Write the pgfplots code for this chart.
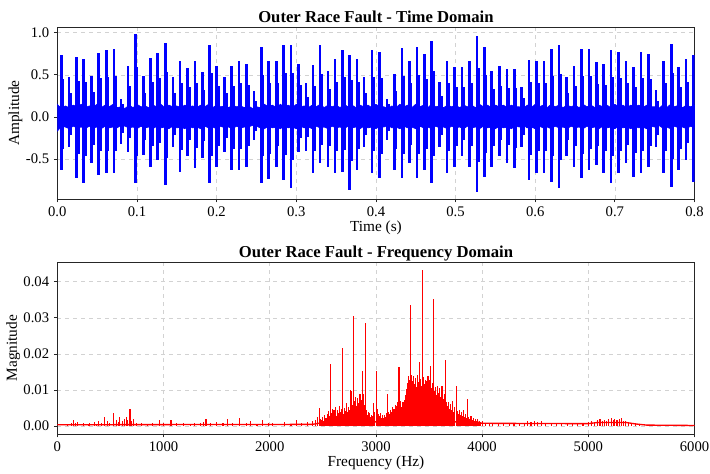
\documentclass[border=0pt]{standalone}
\usepackage{fontspec}
\setmainfont{Liberation Serif}
\usepackage{pgfplots}
\usepackage{pgfplotstable}
\pgfplotsset{compat=1.18}

% impulses: time, positive peak, negative peak, echo peaks
\pgfplotstableread{
t a b a2 b2
0.0050 0.73 -0.63 0.45 -0.38
0.0146 0.47 -0.36 0.28 -0.22
0.0240 0.71 -0.73 0.43 -0.44
0.0330 0.69 -0.78 0.41 -0.47
0.0430 0.49 -0.55 0.30 -0.33
0.0520 0.76 -0.69 0.46 -0.41
0.0615 0.80 -0.67 0.48 -0.40
0.0710 0.81 -0.67 0.49 -0.40
0.0800 0.21 -0.32 0.15 -0.19
0.0890 0.61 -0.42 0.37 -0.25
0.0980 0.98 -0.79 0.59 -0.47
0.1080 0.49 -0.45 0.29 -0.27
0.1170 0.70 -0.59 0.42 -0.35
0.1260 0.76 -0.51 0.46 -0.31
0.1355 0.88 -0.81 0.53 -0.49
0.1450 0.47 -0.36 0.28 -0.22
0.1540 0.66 -0.65 0.40 -0.39
0.1635 0.58 -0.47 0.35 -0.28
0.1730 0.66 -0.61 0.40 -0.37
0.1820 0.53 -0.49 0.32 -0.29
0.1910 0.86 -0.78 0.52 -0.47
0.2000 0.61 -0.59 0.37 -0.35
0.2100 0.47 -0.42 0.28 -0.25
0.2190 0.61 -0.63 0.37 -0.38
0.2280 0.67 -0.63 0.40 -0.38
0.2375 0.63 -0.59 0.38 -0.35
0.2470 0.31 -0.28 0.19 -0.17
0.2560 0.83 -0.78 0.50 -0.47
0.2650 0.66 -0.74 0.40 -0.44
0.2750 0.67 -0.59 0.40 -0.35
0.2840 0.86 -0.75 0.52 -0.45
0.2935 0.86 -0.85 0.52 -0.51
0.3030 0.63 -0.42 0.38 -0.25
0.3120 0.40 -0.40 0.24 -0.24
0.3210 0.62 -0.67 0.37 -0.40
0.3300 0.85 -0.55 0.51 -0.33
0.3400 0.55 -0.59 0.33 -0.35
0.3485 0.69 -0.67 0.41 -0.40
0.3580 0.80 -0.65 0.48 -0.39
0.3670 0.73 -0.87 0.44 -0.52
0.3764 0.69 -0.63 0.41 -0.38
0.3850 0.47 -0.36 0.28 -0.22
0.3950 0.79 -0.67 0.47 -0.40
0.4047 0.77 -0.73 0.46 -0.44
0.4140 0.21 -0.28 0.15 -0.17
0.4230 0.51 -0.63 0.31 -0.38
0.4326 0.82 -0.73 0.49 -0.44
0.4420 0.67 -0.55 0.40 -0.33
0.4517 0.83 -0.73 0.50 -0.44
0.4610 0.75 -0.63 0.45 -0.38
0.4700 0.90 -0.79 0.54 -0.47
0.4800 0.41 -0.36 0.25 -0.22
0.4890 0.66 -0.67 0.40 -0.40
0.4987 0.59 -0.59 0.35 -0.35
0.5080 0.59 -0.47 0.35 -0.28
0.5174 0.66 -0.59 0.40 -0.35
0.5267 0.96 -0.89 0.58 -0.53
0.5360 0.83 -0.71 0.50 -0.43
0.5453 0.55 -0.59 0.33 -0.35
0.5550 0.61 -0.47 0.37 -0.28
0.5644 0.57 -0.55 0.34 -0.33
0.5737 0.57 -0.61 0.34 -0.37
0.5830 0.36 -0.36 0.22 -0.22
0.5924 0.68 -0.75 0.41 -0.45
0.6017 0.67 -0.67 0.40 -0.40
0.6110 0.67 -0.67 0.40 -0.40
0.6203 0.81 -0.77 0.49 -0.46
0.6297 0.85 -0.85 0.51 -0.51
0.6390 0.47 -0.47 0.28 -0.28
0.6487 0.61 -0.59 0.37 -0.35
0.6580 0.81 -0.73 0.49 -0.44
0.6674 0.81 -0.63 0.49 -0.38
0.6767 0.65 -0.57 0.39 -0.34
0.6860 0.63 -0.67 0.38 -0.40
0.6953 0.79 -0.79 0.47 -0.47
0.7047 0.77 -0.67 0.46 -0.40
0.7140 0.66 -0.55 0.40 -0.33
0.7233 0.59 -0.71 0.35 -0.43
0.7326 0.77 -0.67 0.46 -0.40
0.7424 0.75 -0.59 0.45 -0.35
0.7517 0.32 -0.36 0.19 -0.22
0.7610 0.67 -0.67 0.40 -0.40
0.7708 0.87 -0.83 0.52 -0.50
0.7800 0.59 -0.63 0.35 -0.38
0.7894 0.69 -0.51 0.41 -0.31
0.7990 0.73 -0.77 0.44 -0.46
}\imp

% background noise band: upper and lower envelope
\pgfplotstableread{
t up lo
0.000 0.15 -0.17
0.005 0.10 -0.11
0.010 0.13 -0.12
0.015 0.11 -0.14
0.020 0.14 -0.11
0.025 0.12 -0.13
0.030 0.15 -0.12
0.035 0.11 -0.14
0.040 0.13 -0.11
0.045 0.12 -0.13
0.050 0.15 -0.12
0.055 0.11 -0.14
0.060 0.14 -0.11
0.065 0.12 -0.13
0.070 0.15 -0.12
0.075 0.11 -0.13
0.080 0.12 -0.10
0.085 0.10 -0.11
0.090 0.14 -0.13
0.095 0.11 -0.12
0.100 0.15 -0.14
0.105 0.12 -0.11
0.110 0.13 -0.13
0.115 0.11 -0.12
0.120 0.14 -0.14
0.125 0.12 -0.11
0.130 0.15 -0.13
0.135 0.11 -0.12
0.140 0.14 -0.14
0.145 0.12 -0.11
0.150 0.13 -0.13
0.155 0.11 -0.12
0.160 0.14 -0.14
0.165 0.12 -0.11
0.170 0.13 -0.13
0.175 0.11 -0.12
0.180 0.14 -0.14
0.185 0.12 -0.11
0.190 0.15 -0.13
0.195 0.11 -0.12
0.200 0.14 -0.14
0.205 0.12 -0.11
0.210 0.13 -0.13
0.215 0.11 -0.12
0.220 0.14 -0.14
0.225 0.12 -0.11
0.230 0.13 -0.13
0.235 0.11 -0.12
0.240 0.13 -0.12
0.245 0.10 -0.10
0.250 0.12 -0.11
0.255 0.11 -0.13
0.260 0.15 -0.14
0.265 0.12 -0.11
0.270 0.14 -0.13
0.275 0.11 -0.12
0.280 0.15 -0.14
0.285 0.12 -0.11
0.290 0.14 -0.13
0.295 0.11 -0.12
0.300 0.15 -0.14
0.305 0.12 -0.11
0.310 0.13 -0.13
0.315 0.11 -0.12
0.320 0.14 -0.14
0.325 0.12 -0.11
0.330 0.15 -0.13
0.335 0.11 -0.12
0.340 0.14 -0.14
0.345 0.12 -0.11
0.350 0.14 -0.13
0.355 0.11 -0.12
0.360 0.15 -0.14
0.365 0.12 -0.11
0.370 0.14 -0.13
0.375 0.11 -0.12
0.380 0.14 -0.14
0.385 0.12 -0.11
0.390 0.14 -0.13
0.395 0.11 -0.12
0.400 0.15 -0.14
0.405 0.12 -0.11
0.410 0.12 -0.12
0.415 0.10 -0.10
0.420 0.13 -0.13
0.425 0.11 -0.12
0.430 0.15 -0.14
0.435 0.12 -0.11
0.440 0.14 -0.13
0.445 0.11 -0.12
0.450 0.15 -0.14
0.455 0.12 -0.11
0.460 0.14 -0.13
0.465 0.11 -0.12
0.470 0.15 -0.14
0.475 0.12 -0.11
0.480 0.13 -0.13
0.485 0.11 -0.12
0.490 0.14 -0.14
0.495 0.12 -0.11
0.500 0.14 -0.13
0.505 0.11 -0.12
0.510 0.14 -0.14
0.515 0.12 -0.11
0.520 0.14 -0.13
0.525 0.11 -0.12
0.530 0.15 -0.14
0.535 0.12 -0.11
0.540 0.14 -0.13
0.545 0.11 -0.12
0.550 0.14 -0.14
0.555 0.12 -0.11
0.560 0.14 -0.13
0.565 0.11 -0.12
0.570 0.14 -0.14
0.575 0.12 -0.11
0.580 0.12 -0.12
0.585 0.10 -0.10
0.590 0.14 -0.13
0.595 0.11 -0.12
0.600 0.15 -0.14
0.605 0.12 -0.11
0.610 0.14 -0.13
0.615 0.11 -0.12
0.620 0.15 -0.14
0.625 0.12 -0.11
0.630 0.14 -0.13
0.635 0.11 -0.12
0.640 0.14 -0.14
0.645 0.12 -0.11
0.650 0.14 -0.13
0.655 0.11 -0.12
0.660 0.15 -0.14
0.665 0.12 -0.11
0.670 0.14 -0.13
0.675 0.11 -0.12
0.680 0.14 -0.14
0.685 0.12 -0.11
0.690 0.14 -0.13
0.695 0.11 -0.12
0.700 0.15 -0.14
0.705 0.12 -0.11
0.710 0.14 -0.13
0.715 0.11 -0.12
0.720 0.14 -0.14
0.725 0.12 -0.11
0.730 0.14 -0.13
0.735 0.11 -0.12
0.740 0.14 -0.14
0.745 0.12 -0.11
0.750 0.12 -0.12
0.755 0.10 -0.10
0.760 0.14 -0.13
0.765 0.11 -0.12
0.770 0.15 -0.14
0.775 0.12 -0.11
0.780 0.14 -0.13
0.785 0.11 -0.12
0.790 0.14 -0.14
0.795 0.12 -0.11
0.800 0.14 -0.13
}\noiseband

% spectrum spikes
\pgfplotstableread{
f m
100 0.0007
130 0.0009
151 0.0018
175 0.0008
190 0.0011
250 0.0009
290 0.0007
305 0.0010
348 0.0011
370 0.0007
390 0.0014
420 0.0009
442 0.0025
470 0.0014
495 0.0010
533 0.0036
557 0.0017
575 0.0012
587 0.0025
610 0.0013
634 0.0021
650 0.0026
665 0.0018
684 0.0047
700 0.0015
713 0.0021
747 0.0009
790 0.0008
850 0.0007
900 0.0008
966 0.0018
1000 0.0008
1070 0.0017
1120 0.0008
1185 0.0009
1250 0.0007
1290 0.0009
1350 0.0010
1380 0.0012
1400 0.0020
1440 0.0009
1500 0.0011
1560 0.0008
1603 0.0020
1650 0.0008
1719 0.0023
1780 0.0008
1822 0.0015
1880 0.0007
1930 0.0016
1985 0.0010
2030 0.0009
2140 0.0011
2200 0.0007
2250 0.0016
2300 0.0008
2360 0.0011
2400 0.0013
2430 0.0018
2450 0.0025
2465 0.0051
2480 0.0020
2490 0.0018
2500 0.0026
2510 0.0015
2520 0.0031
2530 0.0022
2540 0.0035
2550 0.0041
2560 0.0028
2570 0.0044
2575 0.0173
2580 0.0036
2590 0.0047
2600 0.0030
2605 0.0046
2610 0.0038
2620 0.0052
2630 0.0029
2640 0.0045
2650 0.0036
2660 0.0055
2670 0.0040
2680 0.0048
2685 0.0216
2690 0.0035
2700 0.0050
2710 0.0042
2720 0.0063
2730 0.0038
2740 0.0052
2750 0.0045
2760 0.0099
2770 0.0098
2780 0.0060
2791 0.0305
2800 0.0070
2810 0.0082
2820 0.0055
2830 0.0078
2840 0.0063
2850 0.0090
2860 0.0072
2873 0.0152
2880 0.0088
2890 0.0060
2901 0.0285
2910 0.0045
2920 0.0030
2930 0.0038
2940 0.0037
2950 0.0025
2960 0.0032
2970 0.0028
2980 0.0064
2990 0.0040
3004 0.0152
3010 0.0048
3020 0.0035
3030 0.0028
3040 0.0036
3050 0.0024
3060 0.0031
3070 0.0022
3080 0.0030
3090 0.0026
3100 0.0037
3111 0.0089
3120 0.0040
3130 0.0033
3140 0.0045
3150 0.0038
3160 0.0052
3170 0.0047
3180 0.0060
3190 0.0055
3200 0.0068
3210 0.0062
3217 0.0164
3225 0.0058
3235 0.0070
3245 0.0052
3255 0.0066
3265 0.0072
3275 0.0085
3285 0.0102
3295 0.0120
3305 0.0138
3315 0.0128
3327 0.0334
3335 0.0143
3345 0.0125
3355 0.0140
3365 0.0118
3375 0.0132
3385 0.0108
3395 0.0143
3405 0.0122
3412 0.0177
3420 0.0130
3428 0.0112
3437 0.0432
3445 0.0135
3455 0.0118
3465 0.0128
3475 0.0110
3480 0.0124
3490 0.0140
3500 0.0115
3508 0.0128
3516 0.0167
3525 0.0105
3535 0.0120
3544 0.0351
3552 0.0098
3562 0.0108
3572 0.0085
3582 0.0110
3592 0.0092
3602 0.0106
3612 0.0080
3622 0.0111
3632 0.0075
3642 0.0090
3654 0.0182
3662 0.0068
3672 0.0055
3682 0.0067
3692 0.0048
3702 0.0062
3712 0.0045
3722 0.0069
3732 0.0040
3742 0.0052
3757 0.0112
3765 0.0042
3775 0.0035
3785 0.0046
3795 0.0030
3805 0.0038
3815 0.0028
3825 0.0046
3835 0.0025
3845 0.0033
3855 0.0022
3866 0.0074
3875 0.0025
3885 0.0020
3895 0.0028
3905 0.0016
3915 0.0022
3925 0.0014
3935 0.0019
3945 0.0013
3955 0.0020
3965 0.0012
3975 0.0015
3985 0.0011
4000 0.0014
4030 0.0008
4070 0.0009
4100 0.0007
4150 0.0009
4200 0.0008
4260 0.0010
4300 0.0008
4350 0.0010
4400 0.0009
4430 0.0014
4460 0.0011
4490 0.0015
4520 0.0012
4560 0.0014
4600 0.0008
4650 0.0007
4700 0.0008
4750 0.0007
4800 0.0006
4850 0.0008
4900 0.0007
4950 0.0009
5000 0.0011
5030 0.0014
5060 0.0012
5090 0.0017
5110 0.0020
5130 0.0015
5150 0.0018
5170 0.0013
5190 0.0020
5215 0.0023
5235 0.0017
5250 0.0021
5270 0.0016
5290 0.0019
5310 0.0022
5330 0.0014
5350 0.0015
5380 0.0011
5410 0.0010
5440 0.0008
5480 0.0006
}\spikes

\pgfplotstableread{
f m
0 0.0004
2400 0.0005
2480 0.0009
2500 0.0012
3950 0.0012
4000 0.0008
5000 0.0007
5080 0.0010
5360 0.0010
5450 0.0006
5550 0.0003
6000 0.0002
}\baseline

\pgfplotsset{
  myaxis/.style={
    scale only axis, width=477.9pt, height=128.8pt,
    axis line style={black!85, line width=0.6pt},
    tick style={black!85, line width=0.6pt},
    tick align=outside, major tick length=2.6pt,
    tick pos=left,
    grid=major,
    major grid style={dashed, gray!35, line width=0.4pt},
    tick label style={font=\fontsize{11}{12}\selectfont},
    label style={font=\fontsize{11.5}{13}\selectfont},
    title style={font=\fontsize{12.5}{14}\selectfont\bfseries,
      at={(axis description cs:0.5,1)}, anchor=base, yshift=-2.5pt},
    /pgf/number format/assume math mode=true,
    xlabel style={at={(axis description cs:0.5,0)}, anchor=center, yshift=-21.7pt},
    clip=true,
  }
}

\begin{document}
\begin{tikzpicture}
\path[use as bounding box] (-43pt,-30pt) rectangle (489.5pt,325.5pt);

% ---------- Time domain ----------
\begin{axis}[myaxis,
  at={(0pt,176.25pt)},
  title={Outer Race Fault - Time Domain},
  xlabel={Time (s)}, ylabel={Amplitude},
  ylabel style={at={(axis description cs:0,0.5)}, anchor=center, yshift=31.5pt},
  xmin=0, xmax=0.8, ymin=-0.975, ymax=1.065,
  xtick={0,0.1,...,0.8},
  ytick={-0.5,0,0.5,1.0},
  xticklabel style={/pgf/number format/.cd, fixed, fixed zerofill, precision=1},
  yticklabel style={/pgf/number format/.cd, fixed, fixed zerofill, precision=1},
]
\addplot[draw=blue, fill=blue, line width=0.5pt] table[x=t, y=up] {\noiseband} \closedcycle;
\addplot[draw=blue, fill=blue, line width=0.5pt] table[x=t, y=lo] {\noiseband} \closedcycle;
\addplot[ycomb, blue, line width=1.9pt] table[x=t, y=a] {\imp};
\addplot[ycomb, blue, line width=1.9pt] table[x=t, y=b] {\imp};
\addplot[ycomb, blue, line width=1.4pt, xshift=1.6pt] table[x=t, y=a2] {\imp};
\addplot[ycomb, blue, line width=1.4pt, xshift=1.6pt] table[x=t, y=b2] {\imp};
\end{axis}

% ---------- Frequency domain ----------
\begin{axis}[myaxis,
  at={(0pt,0pt)},
  title={Outer Race Fault - Frequency Domain},
  xlabel={Frequency (Hz)}, ylabel={Magnitude},
  ylabel style={at={(axis description cs:0,0.5)}, anchor=center, yshift=33pt},
  xmin=0, xmax=6000, ymin=-0.00216, ymax=0.04536,
  xtick={0,1000,...,6000},
  ytick={0,0.01,0.02,0.03,0.04},
  scaled y ticks=false, scaled x ticks=false,
  xticklabel style={/pgf/number format/.cd, 1000 sep={}},
  yticklabel style={/pgf/number format/.cd, fixed, fixed zerofill, precision=2},
]
\addplot[red, line width=1pt] table[x=f, y=m] {\baseline};
\addplot[ycomb, red, line width=0.8pt] table[x=f, y=m] {\spikes};
\end{axis}
\end{tikzpicture}
\end{document}
